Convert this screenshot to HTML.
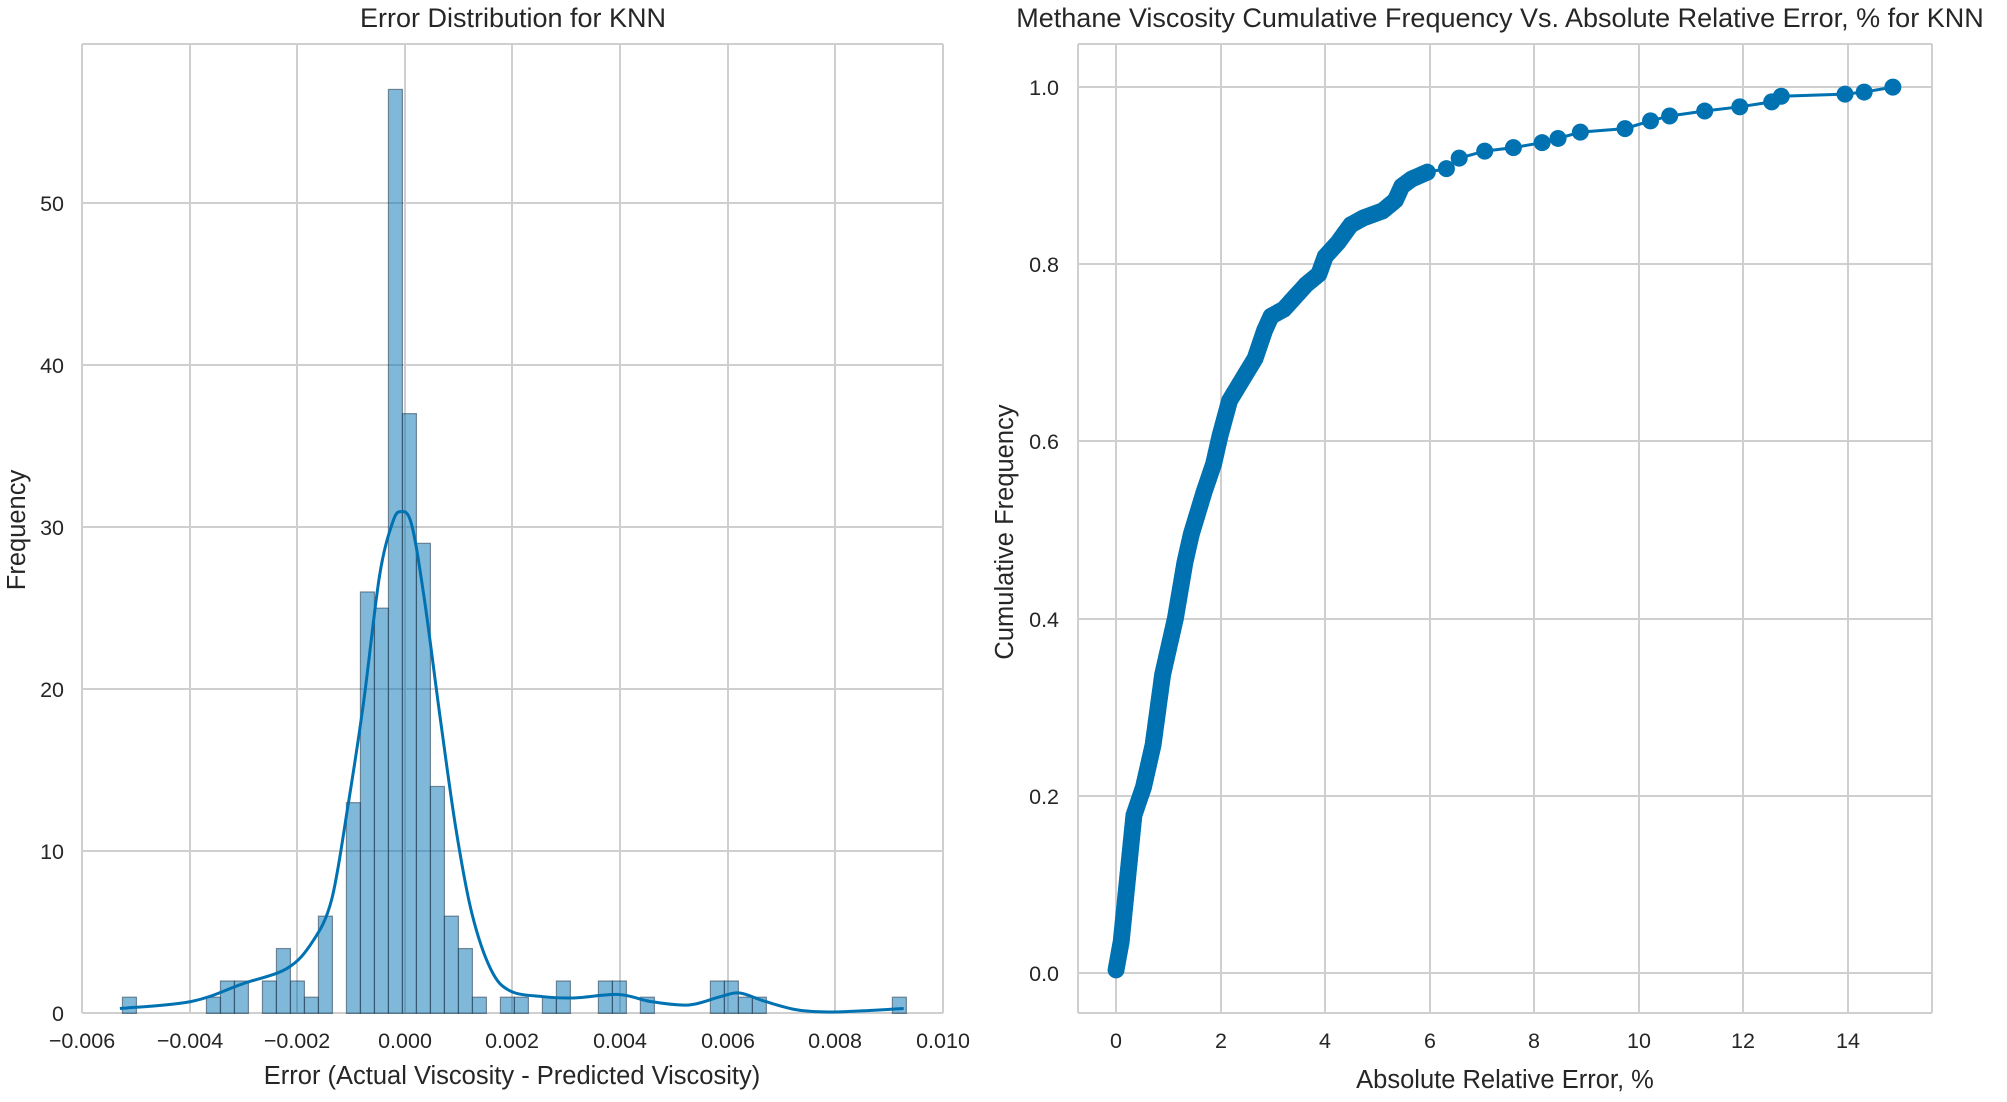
<!DOCTYPE html>
<html><head><meta charset="utf-8"><style>
html,body{margin:0;padding:0;background:#fff;}
svg{display:block;font-family:"Liberation Sans",sans-serif;}
text{fill:#262626;}
</style></head><body>
<svg id="s" width="2007" height="1102" viewBox="0 0 2007 1102" xmlns="http://www.w3.org/2000/svg">
<rect width="2007" height="1102" fill="#fff"/>
<!-- LEFT PANEL -->
<g stroke="#cfcfcf" stroke-width="2">
<line x1="82" y1="44" x2="82" y2="1013"/><line x1="190" y1="44" x2="190" y2="1013"/><line x1="297" y1="44" x2="297" y2="1013"/><line x1="405" y1="44" x2="405" y2="1013"/><line x1="512" y1="44" x2="512" y2="1013"/><line x1="620" y1="44" x2="620" y2="1013"/><line x1="728" y1="44" x2="728" y2="1013"/><line x1="835" y1="44" x2="835" y2="1013"/><line x1="943" y1="44" x2="943" y2="1013"/>
<line x1="82" y1="1013" x2="943" y2="1013"/><line x1="82" y1="851" x2="943" y2="851"/><line x1="82" y1="689" x2="943" y2="689"/><line x1="82" y1="527" x2="943" y2="527"/><line x1="82" y1="365" x2="943" y2="365"/><line x1="82" y1="203" x2="943" y2="203"/><line x1="82" y1="44" x2="943" y2="44"/>
</g>
<g id="bars"></g>
<path id="kde" fill="none" stroke="#0072b2" stroke-width="3"/>
<g font-size="21.5" text-anchor="end">
<text x="64" y="1021">0</text><text x="64" y="859">10</text><text x="64" y="697">20</text><text x="64" y="535">30</text><text x="64" y="373">40</text><text x="64" y="211">50</text>
</g>
<g font-size="21.5" text-anchor="middle">
<text x="82" y="1048">−0.006</text><text x="190" y="1048">−0.004</text><text x="297" y="1048">−0.002</text><text x="405" y="1048">0.000</text><text x="512" y="1048">0.002</text><text x="620" y="1048">0.004</text><text x="728" y="1048">0.006</text><text x="835" y="1048">0.008</text><text x="943" y="1048">0.010</text>
</g>
<text x="512" y="1084" font-size="25.5" text-anchor="middle">Error (Actual Viscosity - Predicted Viscosity)</text>
<text x="513" y="27" font-size="27" text-anchor="middle">Error Distribution for KNN</text>
<text transform="translate(25,530) rotate(-90)" font-size="25.5" text-anchor="middle">Frequency</text>
<!-- RIGHT PANEL -->
<g stroke="#cfcfcf" stroke-width="2">
<line x1="1078" y1="44" x2="1078" y2="1013"/><line x1="1932" y1="44" x2="1932" y2="1013"/>
<line x1="1116" y1="44" x2="1116" y2="1013"/><line x1="1221" y1="44" x2="1221" y2="1013"/><line x1="1325" y1="44" x2="1325" y2="1013"/><line x1="1430" y1="44" x2="1430" y2="1013"/><line x1="1534" y1="44" x2="1534" y2="1013"/><line x1="1639" y1="44" x2="1639" y2="1013"/><line x1="1743" y1="44" x2="1743" y2="1013"/><line x1="1848" y1="44" x2="1848" y2="1013"/>
<line x1="1078" y1="44" x2="1932" y2="44"/><line x1="1078" y1="1013" x2="1932" y2="1013"/>
<line x1="1078" y1="973" x2="1932" y2="973"/><line x1="1078" y1="796" x2="1932" y2="796"/><line x1="1078" y1="619" x2="1932" y2="619"/><line x1="1078" y1="441" x2="1932" y2="441"/><line x1="1078" y1="264" x2="1932" y2="264"/><line x1="1078" y1="87" x2="1932" y2="87"/>
</g>
<polyline id="cdf" fill="none" stroke="#0072b2" stroke-width="3"/>
<g id="dots" fill="#0072b2"></g>
<g font-size="21.5" text-anchor="end">
<text x="1059" y="981">0.0</text><text x="1059" y="804">0.2</text><text x="1059" y="627">0.4</text><text x="1059" y="449">0.6</text><text x="1059" y="272">0.8</text><text x="1059" y="95">1.0</text>
</g>
<g font-size="21.5" text-anchor="middle">
<text x="1116" y="1048">0</text><text x="1221" y="1048">2</text><text x="1325" y="1048">4</text><text x="1430" y="1048">6</text><text x="1534" y="1048">8</text><text x="1639" y="1048">10</text><text x="1743" y="1048">12</text><text x="1848" y="1048">14</text>
</g>
<text x="1505" y="1088" font-size="25.5" text-anchor="middle">Absolute Relative Error, %</text>
<text x="1500" y="27" font-size="27" text-anchor="middle">Methane Viscosity Cumulative Frequency Vs. Absolute Relative Error, % for KNN</text>
<text transform="translate(1013,532) rotate(-90)" font-size="25.5" text-anchor="middle">Cumulative Frequency</text>
</svg>
<script>
var NS="http://www.w3.org/2000/svg";
var kx=1/1.568, ky=1/1.4229;
var counts={0:1,6:1,7:2,8:2,10:2,11:4,12:2,13:1,14:6,16:13,17:26,18:25,19:57,20:37,21:29,22:14,23:6,24:4,25:1,27:1,28:1,30:1,31:2,34:2,35:2,37:1,42:2,43:2,44:1,45:1,55:1};
var g=document.getElementById('bars');
for(var i in counts){var zx=192+i*21.95;var x=zx*kx,w=21.95*kx,h=counts[i]*16.21;
var r=document.createElementNS(NS,'rect');r.setAttribute('x',x);r.setAttribute('y',1013.4-h);r.setAttribute('width',w);r.setAttribute('height',h);
r.setAttribute('fill','rgba(0,114,178,0.5)');r.setAttribute('stroke','rgba(40,60,80,0.55)');r.setAttribute('stroke-width','1.2');g.appendChild(r);}
var kp=[[188,1435],[300,1425],[380,1400],[450,1378],[490,1340],[520,1280],[545,1150],[570,1000],[595,820],[615,745],[628,728],[645,745],[665,850],[690,1020],[715,1180],[740,1300],[770,1380],[800,1410],[850,1418],[900,1420],[970,1415],[1020,1425],[1080,1430],[1130,1418],[1160,1413],[1200,1425],[1250,1437],[1300,1440],[1360,1438],[1417,1435]];
var K=kp.map(function(p){return [p[0]*kx,p[1]*ky]});
var dstr='M'+K[0][0]+','+K[0][1];
for(var j=0;j<K.length-1;j++){var p0=K[Math.max(0,j-1)],p1=K[j],p2=K[j+1],p3=K[Math.min(K.length-1,j+2)];
dstr+=' C'+(p1[0]+(p2[0]-p0[0])/6)+','+(p1[1]+(p2[1]-p0[1])/6)+' '+(p2[0]-(p3[0]-p1[0])/6)+','+(p2[1]-(p3[1]-p1[1])/6)+' '+p2[0]+','+p2[1];}
document.getElementById('kde').setAttribute('d',dstr);
var cp=[[182,1380],[190,1340],[200,1250],[210,1160],[225,1120],[240,1060],[255,960],[275,880],[290,800],[300,760],[320,700],[335,660],[345,620],[360,570],[380,540],[400,510],[415,470],[425,450],[445,440],[465,420],[480,405],[500,390],[510,365],[530,345],[550,320],[570,310],[600,300],[620,285],[630,265],[645,255],[670,245],[700,240],[720,225],[760,215],[805,210],[850,203],[875,197],[910,188],[980,183],[1020,172],[1050,165],[1105,158],[1160,152],[1210,145],[1225,137],[1325,134],[1355,131],[1400,124]];
var P=cp.map(function(p){return [1000+p[0]*kx,p[1]*ky]});
document.getElementById('cdf').setAttribute('points',P.map(function(p){return p[0]+','+p[1]}).join(' '));
var d=document.getElementById('dots');
function dot(x,y){var c=document.createElementNS(NS,'circle');c.setAttribute('cx',x);c.setAttribute('cy',y);c.setAttribute('r',8.5);d.appendChild(c);}
for(var j=0;j<P.length-1;j++){var a=P[j],b=P[j+1];
 if(cp[j][0]<660){var L=Math.hypot(b[0]-a[0],b[1]-a[1]);var n=Math.max(1,Math.ceil(L/3));for(var t=0;t<n;t++){dot(a[0]+(b[0]-a[0])*t/n,a[1]+(b[1]-a[1])*t/n);}}
 else dot(a[0],a[1]);}
dot(P[P.length-1][0],P[P.length-1][1]);
</script>
</body></html>
